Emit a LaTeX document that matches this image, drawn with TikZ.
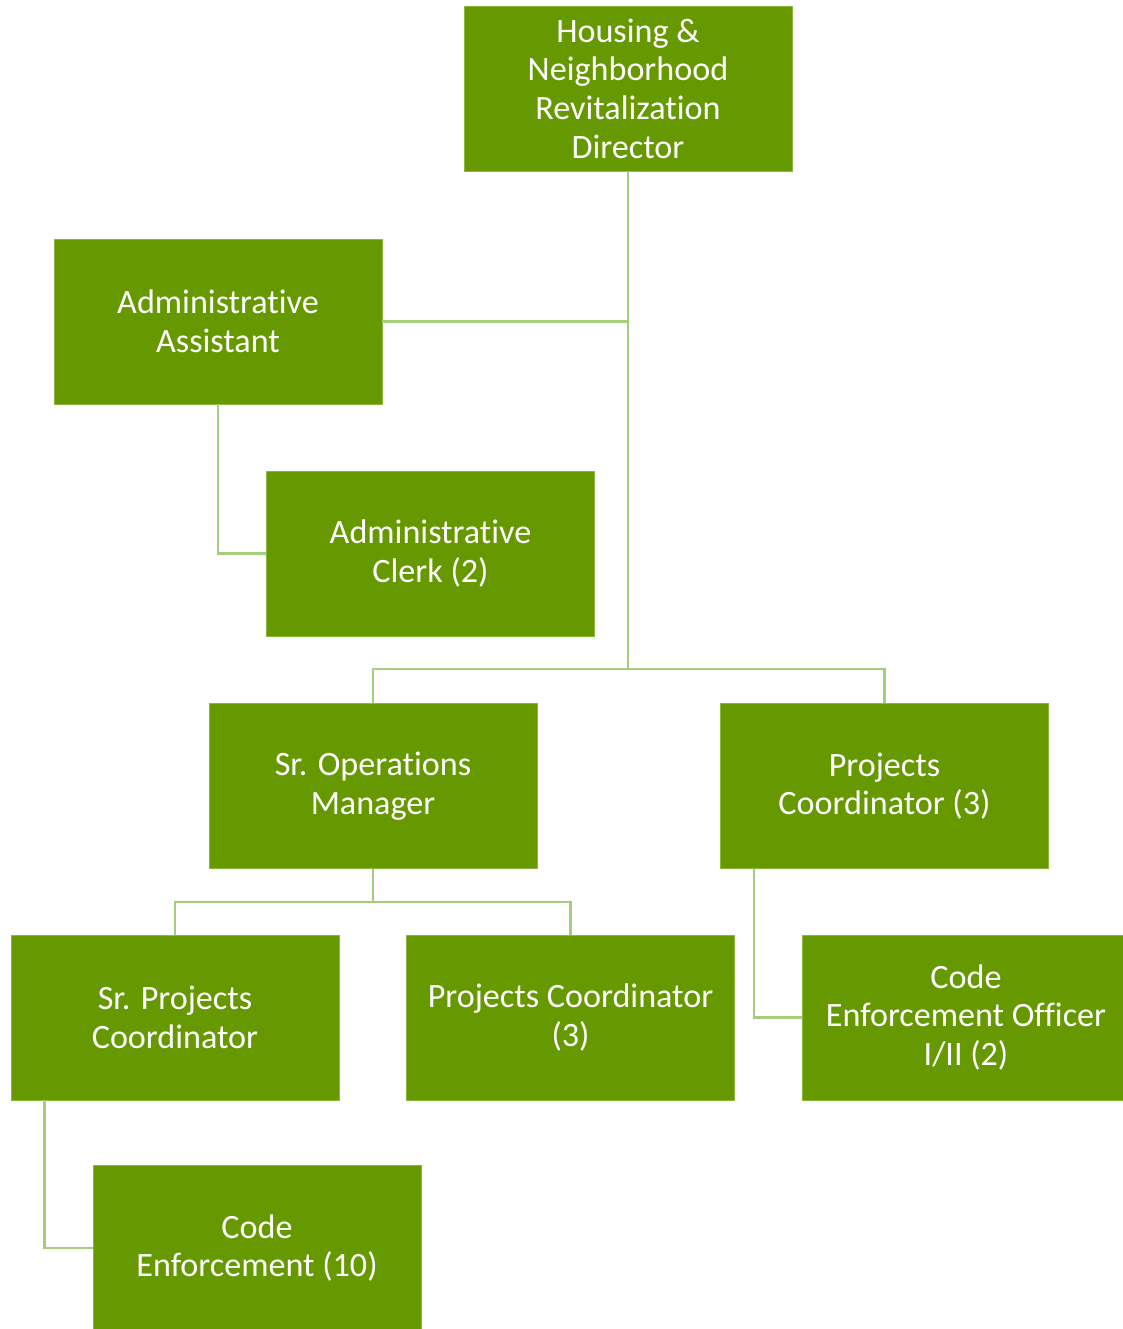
\documentclass[tikz,border=0pt]{standalone}
\usepackage{fontspec}
\setmainfont{Carlito}[Ligatures=NoCommon]
\definecolor{boxgreen}{RGB}{102,153,0}
\definecolor{boxedge}{RGB}{140,185,60}
\definecolor{linkgreen}{RGB}{165,205,125}
\tikzset{
  post/.style={rectangle, fill=boxgreen, draw=boxedge, line width=0.6pt,
    minimum width=246pt, minimum height=123.75pt, inner sep=0pt,
    text=white, align=center, font=\fontsize{25.6}{29}\selectfont},
  link/.style={draw=linkgreen, line width=2pt}
}
\begin{document}
\begin{tikzpicture}[x=0.75pt, y=-0.75pt]
\useasboundingbox (0,0) rectangle (1122,1329);
\fill[white] (0,0) rectangle (1122,1329);

% boxes
\node[post] (dir) at (628,88.5) {Housing \&\\Neighborhood\\Revitalization\\Director};
\node[post] (aa)  at (218,321.5) {Administrative\\Assistant};
\node[post] (ac)  at (430.5,553.5) {Administrative\\Clerk (2)};
\node[post] (som) at (373,786) {Sr. Operations\\Manager};
\node[post] (pcr) at (884.5,786) {Projects\\Coordinator (3)};
\node[post] (spc) at (175,1017.5) {Sr. Projects\\Coordinator};
\node[post] (pcm) at (570.5,1017.5) {Projects Coordinator\\(3)};
\node[post] (ceo) at (966,1017.5) {Code\\Enforcement Officer\\I/II (2)};
\node[post] (ce)  at (257,1248) {Code\\Enforcement (10)};

% junction points
\coordinate (j1) at (628,669);
\coordinate (j2) at (373,902);

% reporting lines
\draw[link] (dir.south) -- (j1);
\draw[link] (aa.east) -- (aa.east -| dir.south);
\draw[link] (aa.south) |- (ac.west);
\draw[link] (som.north) |- (j1) -| (pcr.north);
\draw[link] (som.south) -- (j2);
\draw[link] (spc.north) |- (j2) -| (pcm.north);
\draw[link] ([xshift=25.5pt]pcr.south west) |- (ceo.west);
\draw[link] ([xshift=25.5pt]spc.south west) |- (ce.west);
\end{tikzpicture}
\end{document}
